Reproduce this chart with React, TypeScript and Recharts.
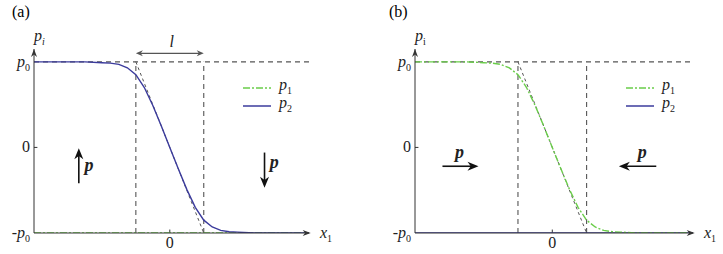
import React from 'react';
import { LineChart, Line, XAxis, YAxis, ReferenceLine, ReferenceDot, Legend } from 'recharts';

// sample positions along x1 (units of l/2) and the wall profile
const xs = [-4, -3.5, -3, -2.5, -2, -1.75, -1.5, -1.25, -1, -0.75, -0.5, -0.25, 0, 0.25, 0.5, 0.75, 1, 1.25, 1.5, 1.75, 2, 2.5, 3, 3.5, 4.1];
const wallProfile = [1, 1, 1, 1, 0.99, 0.985, 0.97, 0.93, 0.85, 0.7, 0.49, 0.25, 0, -0.25, -0.49, -0.7, -0.85, -0.93, -0.97, -0.985, -0.99, -1, -1, -1, -1];
const flatProfile = [-1, -1, -1, -1, -1, -1, -1, -1, -1, -1, -1, -1, -1, -1, -1, -1, -1, -1, -1, -1, -1, -1, -1, -1, -1];

const yTicks = [-1, 0, 1];
const xTicks = [0];
const xDomain = [-4, 4.1];
const yDomain = [-1, 1.15];

// polarization arrows (data units) and where the bold p sits
const arrowsA = [
  { from: [-2.68, -0.42], to: [-2.68, -0.01], label: [-2.38, -0.2] },
  { from: [2.79, -0.06], to: [2.79, -0.47], label: [3.08, -0.17] },
];
const arrowsB = [
  { from: [-3.2, -0.22], to: [-2.15, -0.22], label: [-2.7, -0.05] },
  { from: [3.03, -0.22], to: [1.94, -0.22], label: [2.62, -0.05] },
];

const BLUE = '#3b3b9c';
const GREEN = '#6acd4a';
const GRAY = '#555';
const AXIS = '#333';
const FONT = 'Liberation Serif, Times New Roman, serif';

const dataA = xs.map((x, i) => ({ x, p1: flatProfile[i], p2: wallProfile[i] }));
const dataB = xs.map((x, i) => ({ x, p1: wallProfile[i], p2: flatProfile[i] }));

const P0 = ({ minus }: { minus?: boolean }) => (
  <>
    {minus ? <tspan>-</tspan> : null}
    <tspan fontStyle="italic">p</tspan>
    <tspan fontSize={10} dy={4}>0</tspan>
  </>
);

const YTick = (props: any) => {
  const { x, y, payload } = props;
  const v = payload.value;
  return (
    <text x={x} y={y} dy={5} textAnchor="end" fontFamily={FONT} fontSize={16} fill="#222">
      {v === 0 ? '0' : <P0 minus={v < 0} />}
    </text>
  );
};

const XTick = (props: any) => {
  const { x, y, payload } = props;
  return (
    <text x={x} y={y} dy={12} textAnchor="middle" fontFamily={FONT} fontSize={16} fill="#222">
      {payload.value}
    </text>
  );
};

const arrowHead = (x2: number, y2: number, a: number, L: number, W: number) => {
  const c = Math.cos(a);
  const s = Math.sin(a);
  const bx = x2 - L * c;
  const by = y2 - L * s;
  const nx = x2 - 0.7 * L * c;
  const ny = y2 - 0.7 * L * s;
  return `${x2},${y2} ${bx + W * s},${by - W * c} ${nx},${ny} ${bx - W * s},${by + W * c}`;
};

const BigArrow = (props: any) => {
  const { x1, y1, x2, y2 } = props;
  const a = Math.atan2(y2 - y1, x2 - x1);
  return (
    <g>
      <line x1={x1} y1={y1} x2={x2 - 6 * Math.cos(a)} y2={y2 - 6 * Math.sin(a)} stroke="#111" strokeWidth={1.6} />
      <polygon points={arrowHead(x2, y2, a, 11, 4.5)} fill="#111" />
    </g>
  );
};

const DoubleArrow = (props: any) => {
  const { x1, y1, x2, y2 } = props;
  const a = Math.atan2(y2 - y1, x2 - x1);
  return (
    <g>
      <line x1={x1 + 3} y1={y1} x2={x2 - 3} y2={y2} stroke={GRAY} strokeWidth={1.2} />
      <polygon points={arrowHead(x2, y2, a, 7, 3)} fill={GRAY} />
      <polygon points={arrowHead(x1, y1, a + Math.PI, 7, 3)} fill={GRAY} />
    </g>
  );
};

const AxisHead = (dir: 'up' | 'right') => (props: any) => {
  const { cx, cy } = props;
  const a = dir === 'up' ? -Math.PI / 2 : 0;
  return <polygon points={arrowHead(cx, cy, a, 8, 3)} fill={AXIS} />;
};

const TextAt = (content: React.ReactNode, dx: number, dy: number, anchor = 'middle', extra: any = {}) => (props: any) => (
  <text x={props.cx + dx} y={props.cy + dy} textAnchor={anchor} fontFamily={FONT} fontSize={16} fill="#222" {...extra}>
    {content}
  </text>
);

const LegendBox = () => (
  <div style={{ fontFamily: FONT, fontSize: 16, color: '#222', lineHeight: '18px' }}>
    {[
      { name: '1', color: GREEN, dash: '7 2 2 2' },
      { name: '2', color: BLUE, dash: undefined },
    ].map((it) => (
      <div key={it.name} style={{ display: 'flex', alignItems: 'center', height: 18 }}>
        <svg width={30} height={6} style={{ marginRight: 6 }}>
          <line x1={0} y1={3} x2={28} y2={3} stroke={it.color} strokeWidth={1.5} strokeDasharray={it.dash} />
        </svg>
        <span>
          <i>p</i>
          <sub style={{ fontSize: 10, verticalAlign: 'sub' }}>{it.name}</sub>
        </span>
      </div>
    ))}
  </div>
);

interface PanelProps {
  data: any[];
  arrows: typeof arrowsA;
  left: number;
  width: number;
  marginLeft: number;
  marginRight: number;
  legendLeft: number;
  roman: boolean;
}

const Panel = ({ data, arrows, left, width, marginLeft, marginRight, legendLeft, roman }: PanelProps) => (
  <div style={{ position: 'absolute', left, top: 0 }}>
    <LineChart width={width} height={254} data={data} margin={{ top: 49, right: marginRight, left: marginLeft, bottom: 0 }}>
      <XAxis
        dataKey="x"
        type="number"
        domain={xDomain}
        ticks={xTicks}
        allowDataOverflow
        tick={<XTick />}
        tickLine={false}
        tickSize={0}
        tickMargin={3}
        height={21}
        axisLine={{ stroke: AXIS, strokeWidth: 1 }}
      />
      <YAxis
        type="number"
        domain={yDomain}
        ticks={yTicks}
        allowDataOverflow
        tick={<YTick />}
        tickLine={false}
        tickSize={0}
        tickMargin={4}
        width={34}
        axisLine={{ stroke: AXIS, strokeWidth: 1 }}
      />
      <ReferenceLine y={1} stroke={GRAY} strokeDasharray="5 4" strokeWidth={1.1} />
      <ReferenceLine segment={[{ x: -1, y: -1 }, { x: -1, y: 1 }]} stroke={GRAY} strokeDasharray="5 4" strokeWidth={1.1} />
      <ReferenceLine segment={[{ x: 1, y: -1 }, { x: 1, y: 1 }]} stroke={GRAY} strokeDasharray="5 4" strokeWidth={1.1} />
      <ReferenceLine segment={[{ x: -1, y: 1 }, { x: 1, y: -1 }]} stroke={GRAY} strokeDasharray="3 3" strokeWidth={1} />
      <ReferenceLine segment={[{ x: -4, y: 0 }, { x: -3.9, y: 0 }]} stroke={AXIS} />
      <ReferenceLine segment={[{ x: 0, y: -1 }, { x: 0, y: -0.96 }]} stroke={AXIS} />
      {arrows.map((a, i) => (
        <ReferenceLine key={'a' + i} segment={[{ x: a.from[0], y: a.from[1] }, { x: a.to[0], y: a.to[1] }]} shape={BigArrow} />
      ))}
      {arrows.map((a, i) => (
        <ReferenceDot
          key={'l' + i}
          x={a.label[0]}
          y={a.label[1]}
          r={0}
          ifOverflow="visible"
          shape={TextAt('p', 0, 6, 'middle', { fontWeight: 'bold', fontStyle: 'italic', fontSize: 18 })}
        />
      ))}
      {!roman ? (
        <ReferenceLine segment={[{ x: -1, y: 1.1 }, { x: 1, y: 1.1 }]} ifOverflow="visible" shape={DoubleArrow} />
      ) : null}
      {!roman ? (
        <ReferenceDot x={0} y={1.1} r={0} ifOverflow="visible" shape={TextAt('l', 2, -6, 'middle', { fontStyle: 'italic' })} />
      ) : null}
      <ReferenceDot x={xDomain[1] + 0.05} y={-1} r={0} ifOverflow="visible" shape={AxisHead('right')} />
      <ReferenceDot x={xDomain[0]} y={yDomain[1]} r={0} ifOverflow="visible" shape={AxisHead('up')} />
      <ReferenceDot
        x={xDomain[1]}
        y={-1}
        r={0}
        ifOverflow="visible"
        shape={TextAt(
          <>
            <tspan fontStyle="italic">x</tspan>
            <tspan fontSize={10} dy={4}>1</tspan>
          </>,
          11,
          5,
          'start'
        )}
      />
      <ReferenceDot
        x={xDomain[0]}
        y={yDomain[1]}
        r={0}
        ifOverflow="visible"
        shape={TextAt(
          <>
            <tspan fontStyle="italic">p</tspan>
            <tspan fontSize={10} dy={4} fontStyle={roman ? 'normal' : 'italic'}>i</tspan>
          </>,
          0,
          -8,
          'start',
          {}
        )}
      />
      <Legend
        layout="vertical"
        align="center"
        verticalAlign="middle"
        wrapperStyle={{ left: legendLeft, top: 79, width: 80 }}
        content={() => <LegendBox />}
      />
      {roman ? (
        <>
          <Line dataKey="p2" stroke={BLUE} strokeWidth={1.4} dot={false} isAnimationActive={false} />
          <Line dataKey="p1" stroke={GREEN} strokeWidth={1.4} strokeDasharray="7 2 2 2" dot={false} isAnimationActive={false} />
        </>
      ) : (
        <>
          <Line dataKey="p1" stroke={GREEN} strokeWidth={1.6} strokeDasharray="7 2 2 2" dot={false} isAnimationActive={false} />
          <Line dataKey="p2" stroke={BLUE} strokeWidth={1.4} dot={false} isAnimationActive={false} />
        </>
      )}
    </LineChart>
  </div>
);

export default function App() {
  return (
    <div style={{ position: 'absolute', left: 0, top: 0, width: 723, height: 254, background: '#fff', fontFamily: FONT }}>
      <div style={{ position: 'absolute', left: 12, top: 3, fontSize: 16 }}>(a)</div>
      <div style={{ position: 'absolute', left: 389, top: 3, fontSize: 16 }}>(b)</div>
      <Panel data={dataA} arrows={arrowsA} left={0} width={363} marginLeft={0} marginRight={54} legendLeft={243} roman={false} />
      <Panel data={dataB} arrows={arrowsB} left={363} width={360} marginLeft={18} marginRight={30} legendLeft={263} roman />
    </div>
  );
}
